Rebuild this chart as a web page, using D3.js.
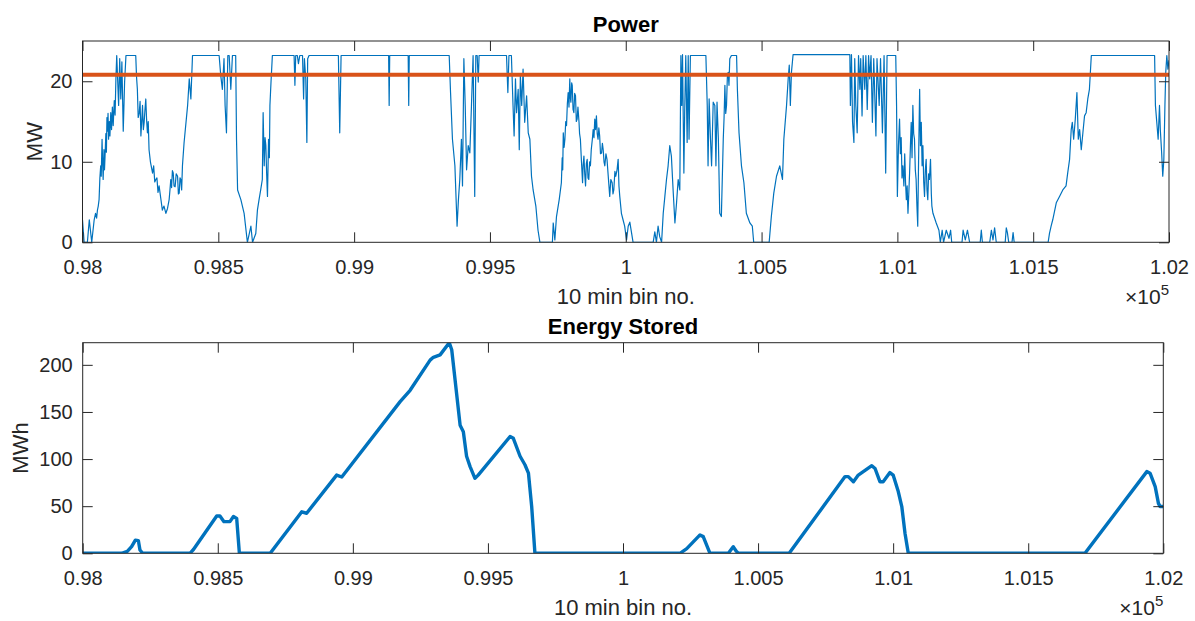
<!DOCTYPE html>
<html>
<head>
<meta charset="utf-8">
<script src="https://cdn.jsdelivr.net/npm/d3@7"></script>
<style>
  body { margin: 0; background: #fff; }
  svg { display: block; font-family: "Liberation Sans", Arial, sans-serif; }
</style>
</head>
<body>
<svg id="fig" width="1195" height="621"></svg>
<script>
// bin number (10 min bins) vs MW
const powerSeries = [
  [98000,2.8],[98006,0],[98018,0],[98025,2.8],[98034,0],[98043,2.8],[98048,3.6],[98052,3.0],[98055,4.0],[98058,4.5],
  [98061,5.3],[98064,8.0],[98067,9.5],[98069,8.2],[98072,12.8],[98074,10.0],[98076,7.8],[98079,11.5],[98081,9.0],
  [98083,10.7],[98086,13.5],[98088,11.2],[98090,15.5],[98092,13.8],[98094,16.0],[98096,12.8],[98099,15.0],[98101,13.2],
  [98104,16.1],[98107,14.0],[98110,16.8],[98113,14.5],[98117,17.6],[98120,15.8],[98123,20.3],[98126,23.2],
  [98133,17.0],[98137,22.8],[98141,17.8],[98145,22.4],[98150,13.8],[98155,19.9],[98160,23.2],[98196,23.2],[98199,20.5],
  [98202,19.0],[98205,15.5],[98209,16.1],[98212,17.5],[98215,13.2],[98218,15.0],[98221,17.0],[98224,14.0],[98227,14.9],
  [98230,16.5],[98233,17.8],[98236,15.2],[98239,13.6],[98242,15.0],[98245,11.5],[98250,10.0],[98258,8.6],[98262,9.5],
  [98266,7.5],[98270,7.8],[98274,8.0],[98278,6.2],[98282,7.0],[98288,5.5],[98294,4.0],[98300,4.5],[98307,3.6],
  [98313,4.2],[98319,5.3],[98322,6.5],[98325,7.8],[98328,6.8],[98331,8.9],[98334,8.6],[98337,7.0],[98341,6.9],
  [98345,8.5],[98350,8.2],[98353,6.0],[98356,6.1],[98359,8.0],[98362,7.8],[98365,6.5],[98368,9.5],
  [98374,12.4],[98387,17.0],[98393,20.3],[98399,17.8],[98405,23.2],[98503,23.2],[98509,20.7],[98515,19.0],
  [98521,22.8],[98525,17.0],[98530,13.6],[98535,23.2],[98540,23.2],[98546,19.0],[98552,23.2],[98564,23.2],[98567,12.8],
  [98571,6.5],[98583,5.3],[98595,3.6],[98607,0],[98620,2.0],[98626,0],[98638,1.1],[98644,4.0],[98650,5.3],[98656,6.5],
  [98662,7.8],[98665,16.1],[98669,9.5],[98672,13.0],[98675,12.0],[98678,8.5],[98681,5.7],[98685,12.8],[98688,10.5],
  [98690,17.0],[98694,19.9],[98699,23.2],[98779,23.2],
  [98782,19.5],[98785,23.2],[98791,23.2],[98795,22.2],[98800,23.2],[98810,23.2],[98814,17.8],[98817,22.8],[98822,20.3],
  [98826,12.4],[98829,22.8],[98834,23.2],[98942,23.2],[98947,13.6],[98952,23.2],[99127,23.2],[99129,17.0],[99131,23.2],
  [99199,23.2],[99201,17.0],[99203,23.2],[99350,23.2],[99355,18.6],[99362,12.8],[99371,9.5],[99379,2.0],[99384,5.3],
  [99389,7.8],[99395,12.8],[99399,7.0],[99404,22.8],[99409,17.0],[99414,9.0],[99420,12.0],[99426,11.1],[99432,17.0],
  [99438,23.2],[99444,5.7],[99448,23.2],[99453,23.2],[99457,19.9],[99460,23.2],[99561,23.2],[99566,18.6],[99570,23.2],
  [99579,23.2],[99585,17.0],[99589,13.2],[99594,20.3],[99598,16.1],[99604,19.0],[99608,11.5],[99612,20.7],[99617,17.0],
  [99622,21.5],[99628,14.9],[99635,18.2],[99641,13.6],[99647,12.8],[99653,8.2],[99659,6.5],[99669,4.5],[99677,1.5],
  [99684,0],[99730,0],[99733,2.4],[99739,0.3],[99745,3.2],[99755,5.3],[99763,7.4],[99766,10.5],[99768,9.0],[99770,13.6],
  [99773,11.8],[99776,12.8],[99779,15.0],[99782,14.5],[99785,17.2],[99788,18.6],[99791,16.8],[99794,20.3],[99796,18.0],
  [99798,17.4],[99801,19.8],[99803,19.5],[99806,16.5],[99809,16.1],[99812,18.5],[99815,18.2],[99818,15.0],[99821,15.3],
  [99824,16.8],[99828,14.9],[99830,13.5],[99833,12.8],[99837,10.0],[99841,7.4],[99843,9.5],[99846,10.7],[99849,8.5],
  [99852,7.0],[99855,9.8],[99858,10.3],[99861,8.0],[99864,7.8],[99867,10.0],[99870,9.5],[99873,11.5],[99877,12.8],
  [99880,14.0],[99883,13.0],[99886,15.3],[99889,14.0],[99892,15.7],[99895,13.5],[99898,12.8],[99901,14.2],[99904,13.2],
  [99907,11.0],[99911,11.1],[99914,12.3],[99917,11.5],[99920,10.0],[99923,9.5],[99927,11.0],[99931,10.3],[99936,8.0],
  [99941,5.7],[99945,7.8],[99950,7.4],[99953,6.0],[99956,6.5],[99960,8.8],[99963,8.2],[99968,9.0],[99972,10.3],
  [99975,7.0],[99978,5.7],[99984,3.6],[99990,2.8],[99996,2.0],[100003,0.3],[100009,2.0],[100015,2.5],
  [100027,0],[100101,0],[100107,1.3],[100113,0],[100119,2.0],[100125,0.7],[100132,0],[100138,3.6],[100144,5.7],
  [100150,7.8],[100156,9.5],[100162,12.0],[100168,10.7],[100175,6.1],[100181,2.4],[100187,4.9],[100193,7.8],[100199,6.5],
  [100203,23.2],[100206,17.0],[100209,23.3],[100214,8.6],[100217,16.1],[100221,23.2],[100226,12.4],[100230,23.2],
  [100233,12.8],[100238,23.2],[100295,23.2],[100300,17.0],[100303,9.5],[100307,17.8],[100312,12.8],[100316,9.5],
  [100322,17.4],[100328,17.0],[100332,9.5],[100336,17.4],[100341,12.8],[100346,3.6],[100352,3.2],[100359,12.8],
  [100362,15.5],[100365,19.5],[100368,16.0],[100371,17.0],[100374,20.5],[100377,21.1],[100380,19.5],[100383,22.8],
  [100389,23.2],[100408,23.2],[100411,19.0],[100417,13.6],
  [100426,9.5],[100435,7.4],[100444,3.6],[100457,2.4],[100466,2.0],[100471,0],[100528,0],[100536,3.2],[100545,6.1],
  [100555,8.2],[100567,9.5],[100577,7.8],[100582,12.8],[100592,17.0],[100598,20.3],[100602,22.0],[100606,17.0],
  [100610,21.1],[100616,23.3],[100825,23.3],[100827,17.0],[100831,23.3],[100835,14.9],[100840,12.4],[100843,22.8],
  [100847,17.0],[100852,13.6],[100857,23.2],[100862,19.0],[100865,22.8],[100870,15.7],[100874,23.2],[100880,19.0],
  [100884,23.2],[100889,16.5],[100894,23.2],[100898,20.3],[100903,23.2],[100908,14.9],[100913,22.8],[100921,13.2],
  [100925,22.8],[100933,17.0],[100938,22.8],[100945,13.6],[100951,23.2],[100957,8.6],[100962,23.2],[100994,23.2],
  [100997,17.0],[101000,5.7],[101004,12.0],[101008,15.3],[101011,11.0],[101014,13.0],[101017,8.0],[101020,9.5],
  [101024,7.0],[101027,11.0],[101030,7.5],[101033,5.3],[101036,7.0],[101039,3.6],[101042,6.0],[101045,8.6],
  [101048,12.0],[101051,14.9],[101054,10.5],[101057,17.0],[101060,13.5],[101063,12.8],[101066,9.0],[101069,7.8],
  [101072,4.5],[101075,2.0],[101078,10.0],[101082,19.0],[101085,12.0],[101088,14.9],[101091,9.5],[101094,12.0],
  [101097,7.5],[101100,5.7],[101103,9.0],[101106,10.3],[101109,6.5],[101112,5.3],[101115,8.5],[101118,7.8],
  [101122,10.3],[101125,6.0],[101127,4.5],[101131,3.6],
  [101143,2.4],[101153,1.5],[101158,0],[101165,1.5],[101170,0],[101180,1.5],[101190,0.5],[101196,1.5],[101200,0],
  [101238,0],[101242,1.5],[101250,0.3],[101258,1.5],[101266,0],[101305,0],[101309,1.5],[101313,0],[101340,0],
  [101346,1.5],[101352,0.3],[101358,1.8],[101364,0],[101397,0],[101401,1.8],[101405,1.2],[101410,0],[101422,0],
  [101426,1.2],[101430,0],[101555,0],[101560,1.1],[101566,2.0],[101572,2.8],[101585,4.9],[101597,5.7],[101609,6.5],
  [101621,7.0],[101627,8.6],[101634,10.3],[101640,14.0],[101644,14.9],[101649,12.8],[101655,15.3],[101661,18.6],
  [101666,12.8],[101671,14.0],[101677,11.5],[101683,13.6],[101689,15.7],[101695,16.1],[101701,17.8],[101707,19.0],
  [101714,23.2],[101947,23.2],[101950,17.0],[101955,14.9],[101960,12.8],[101965,17.0],[101968,14.0],[101973,11.1],
  [101977,8.2],[101981,10.3],[101985,17.0],[101988,21.1],[101992,23.2],[101996,21.5],[102000,22.6]
];

// rated power line
const thresholdMW = 20.8;

// bin number vs MWh stored
const storedSeries = [
  [98000,0],[98144,0],[98165,2],[98181,7],[98195,14],[98206,13.5],[98212,3.5],[98222,0],[98397,0],[98410,4],
  [98496,39.6],[98508,39.6],[98523,33.6],[98545,33.6],[98558,39],[98570,37],[98580,0],[98694,0],[98811,44],
  [98829,42.5],[98940,83],[98959,81],[99175,161],[99212,173],[99286,205],[99298,208],[99323,210.6],[99357,223.5],
  [99366,216],[99397,136],[99409,129],[99421,103],[99434,92],[99452,79.6],[99464,83],[99582,124],[99594,122],
  [99619,103],[99637,94],[99650,85],[99662,49.6],[99674,0],[100211,0],[100236,5],[100285,19.5],[100297,17.7],
  [100322,0],[100390,0],[100408,7],[100420,2],[100427,0],[100615,0],[100822,81.4],[100834,81.4],[100853,76],
  [100871,83],[100921,93],[100933,90],[100951,76],[100963,76],[100988,85.7],[101000,83],[101019,65.5],[101032,49.6],
  [101044,21],[101056,0],[101710,0],[101939,86.7],[101951,85],[101970,70.8],[101982,53],[101988,49.6],[102000,49.6]
];

const xTicks = [98000, 98500, 99000, 99500, 100000, 100500, 101000, 101500, 102000];
const powerTicks = [0, 10, 20];
const storedTicks = [0, 50, 100, 150, 200];

const axisColor = "#262626";
const blue = "#0072BD";
const orange = "#D95319";

const svg = d3.select("#fig");

// x labels shown in units of 1e5
const xFmt = (d) => String(+(d / 1e5).toFixed(3));

function drawPanel(p) {
  const x = d3.scaleLinear().domain([98000, 102000]).range([p.left, p.right]);
  const y = d3.scaleLinear().domain(p.yDomain).range([p.bottom, p.top]);
  const g = svg.append("g");

  g.append("clipPath").attr("id", p.id + "clip")
    .append("rect")
    .attr("x", p.left).attr("y", p.top)
    .attr("width", p.right - p.left).attr("height", p.bottom - p.top);

  const plot = g.append("g").attr("clip-path", `url(#${p.id}clip)`);
  p.drawLines(plot, x, y);

  const bottomAxis = g.append("g")
    .attr("transform", `translate(0,${p.bottom})`)
    .call(d3.axisBottom(x).tickValues(xTicks).tickFormat(xFmt).tickSize(-10).tickPadding(18));
  const topAxis = g.append("g")
    .attr("transform", `translate(0,${p.top})`)
    .call(d3.axisTop(x).tickValues(xTicks).tickFormat("").tickSize(-10));
  const leftAxis = g.append("g")
    .attr("transform", `translate(${p.left},0)`)
    .call(d3.axisLeft(y).tickValues(p.yTicks).tickSize(-10).tickPadding(10));
  const rightAxis = g.append("g")
    .attr("transform", `translate(${p.right},0)`)
    .call(d3.axisRight(y).tickValues(p.yTicks).tickFormat("").tickSize(-10));

  [bottomAxis, topAxis, leftAxis, rightAxis].forEach((a) => {
    a.select(".domain").remove();
    a.selectAll("line").attr("stroke", axisColor);
    a.selectAll("text").attr("fill", axisColor)
      .style("font-size", "20px")
      .style("font-family", '"Liberation Sans", Arial, sans-serif');
  });

  g.append("rect")
    .attr("x", p.left).attr("y", p.top)
    .attr("width", p.right - p.left).attr("height", p.bottom - p.top)
    .attr("fill", "none").attr("stroke", axisColor).attr("stroke-width", 1);

  g.append("text")
    .attr("x", (p.left + p.right) / 2).attr("y", p.top - 9)
    .attr("text-anchor", "middle")
    .style("font-size", "22px").style("font-weight", "bold")
    .attr("fill", "#000")
    .text(p.title);

  g.append("text")
    .attr("x", (p.left + p.right) / 2).attr("y", p.bottom + 62)
    .attr("text-anchor", "middle")
    .style("font-size", "22px")
    .attr("fill", axisColor)
    .text("10 min bin no.");

  g.append("text")
    .attr("transform", `translate(${p.yLabelX},${(p.top + p.bottom) / 2}) rotate(-90)`)
    .attr("text-anchor", "middle")
    .style("font-size", "22px")
    .attr("fill", axisColor)
    .text(p.yLabel);

  const exp = g.append("text")
    .attr("x", p.right).attr("y", p.bottom + 62)
    .attr("text-anchor", "end")
    .style("font-size", "21px")
    .attr("fill", axisColor);
  exp.append("tspan").text("\u00d710");
  exp.append("tspan").attr("dy", -9).style("font-size", "15px").text("5");
}

drawPanel({
  id: "power",
  left: 82.5, right: 1169, top: 41, bottom: 242.3,
  yDomain: [0, 25], yTicks: powerTicks,
  title: "Power", yLabel: "MW", yLabelX: 41.5,
  drawLines(plot, x, y) {
    plot.append("path")
      .datum(powerSeries)
      .attr("fill", "none")
      .attr("stroke", blue)
      .attr("stroke-width", 1.2)
      .attr("stroke-linejoin", "round")
      .attr("d", d3.line().x((d) => x(d[0])).y((d) => y(d[1])));
    plot.append("path")
      .datum([[98000, thresholdMW], [102000, thresholdMW]])
      .attr("fill", "none")
      .attr("stroke", orange)
      .attr("stroke-width", 4)
      .attr("d", d3.line().x((d) => x(d[0])).y((d) => y(d[1])));
  }
});

drawPanel({
  id: "stored",
  left: 82.7, right: 1163.3, top: 342.7, bottom: 553.3,
  yDomain: [0, d3.max(storedSeries, (d) => d[1])], yTicks: storedTicks,
  title: "Energy Stored", yLabel: "MWh", yLabelX: 28,
  drawLines(plot, x, y) {
    plot.append("path")
      .datum(storedSeries)
      .attr("fill", "none")
      .attr("stroke", blue)
      .attr("stroke-width", 3.4)
      .attr("stroke-linejoin", "round")
      .attr("d", d3.line().x((d) => x(d[0])).y((d) => y(d[1])));
  }
});
</script>
</body>
</html>
